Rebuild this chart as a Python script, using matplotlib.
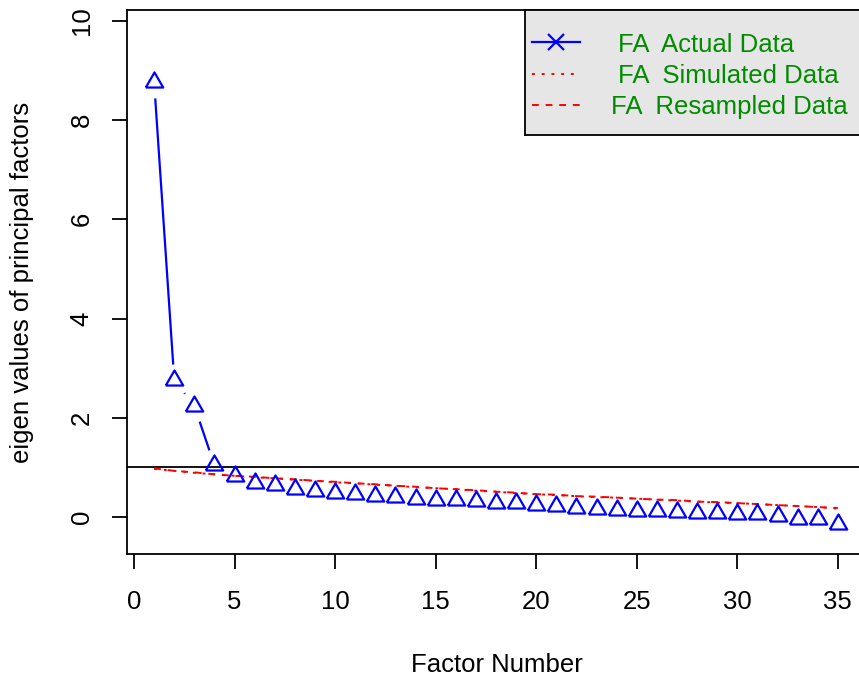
import matplotlib
matplotlib.use("Agg")
import matplotlib.pyplot as plt
import numpy as np

plt.rcParams['font.family'] = ['Liberation Sans', 'DejaVu Sans']

# eigen values
factor_num = np.arange(1, 36)
actual = [8.76, 2.76, 2.24, 1.04, 0.82, 0.69, 0.64, 0.56, 0.52, 0.48,
          0.46, 0.42, 0.40, 0.37, 0.35, 0.34, 0.32, 0.28, 0.28, 0.24,
          0.23, 0.18, 0.17, 0.15, 0.13, 0.12, 0.11, 0.09, 0.08, 0.07,
          0.06, 0.03, -0.05, -0.05, -0.15]
simulated = [0.97, 0.93, 0.89, 0.86, 0.83, 0.80, 0.78, 0.75, 0.73, 0.70,
             0.68, 0.65, 0.63, 0.60, 0.58, 0.56, 0.53, 0.51, 0.48, 0.46,
             0.44, 0.42, 0.40, 0.39, 0.37, 0.35, 0.33, 0.31, 0.29, 0.28,
             0.26, 0.24, 0.22, 0.20, 0.17]
resampled = [0.98, 0.93, 0.90, 0.86, 0.83, 0.81, 0.78, 0.76, 0.73, 0.71,
             0.68, 0.66, 0.63, 0.61, 0.58, 0.56, 0.54, 0.51, 0.49, 0.46,
             0.45, 0.42, 0.41, 0.39, 0.37, 0.35, 0.34, 0.31, 0.30, 0.28,
             0.26, 0.24, 0.22, 0.20, 0.18]
legend_labels = ['FA  Actual Data', 'FA  Simulated Data', 'FA  Resampled Data']

W, H = 859, 677
fs = 18.5
fig = plt.figure(figsize=(W / 100, H / 100), dpi=100)
ax = fig.add_axes([127 / W, (H - 554) / H, 739 / W, 544 / H])

# R style triangle (pch = 2)
tri = [(-1, -0.577), (1, -0.577), (0, 1.155), (-1, -0.577)]

# type = "b": line with gaps round the points
ax.plot(factor_num, actual, color='blue', lw=1.6, zorder=1)
ax.plot(factor_num, actual, ls='none', marker='o', ms=23, mfc='white',
        mec='none', zorder=2)
ax.axhline(1, color='black', lw=1.3, zorder=3)
ax.plot(factor_num, simulated, color='red', lw=1.4, dashes=(1.5, 3.5), zorder=3)
ax.plot(factor_num, resampled, color='red', lw=1.4, dashes=(3.5, 3.5), zorder=3)
ax.plot(factor_num, actual, ls='none', marker=tri, ms=14.5, mfc='none',
        mec='blue', mew=1.6, zorder=4)

ax.set_xlim(-0.35, 36.4)
ax.set_ylim(-0.746, 10.22)
ax.set_xticks([0, 5, 10, 15, 20, 25, 30, 35])
ax.set_yticks([0, 2, 4, 6, 8, 10])
ax.spines['right'].set_visible(False)
for s in ['left', 'top', 'bottom']:
    ax.spines[s].set_linewidth(1.3)
ax.tick_params(direction='out', length=11, width=1.3, labelsize=fs)
ax.tick_params(axis='x', pad=15)
ax.tick_params(axis='y', pad=13, labelrotation=90)
for t in ax.get_yticklabels():
    t.set_va('center')

ax.set_xlabel('Factor Number', fontsize=fs)
ax.xaxis.set_label_coords(0.5, -0.182)
ax.xaxis.label.set_va('top')
ax.set_ylabel('eigen values of principal factors', fontsize=fs)
ax.yaxis.set_label_coords(-0.126, 0.5)

# legend box drawn in pixel units
lg = fig.add_axes([525 / W, (H - 135) / H, 347 / W, 125 / H])
lg.set_xlim(525, 872)
lg.set_ylim(135, 10)
lg.set_facecolor('#e6e6e6')
lg.set_xticks([])
lg.set_yticks([])
for s in lg.spines.values():
    s.set_linewidth(1.3)
lg.plot([532, 580], [42, 42], color='blue', lw=1.6)
lg.plot([556], [42], marker='x', color='blue', ms=11, mew=1.6)
lg.plot([532, 580], [74, 74], color='red', lw=1.4, dashes=(1.5, 3.5))
lg.plot([532, 580], [105, 105], color='red', lw=1.4, dashes=(3.5, 3.5))
lg.text(618, 52, legend_labels[0], color='#008B00', fontsize=fs, va='baseline')
lg.text(618, 83, legend_labels[1], color='#008B00', fontsize=fs, va='baseline')
lg.text(611, 114, legend_labels[2], color='#008B00', fontsize=fs, va='baseline')

fig.savefig('out.png', dpi=100)
